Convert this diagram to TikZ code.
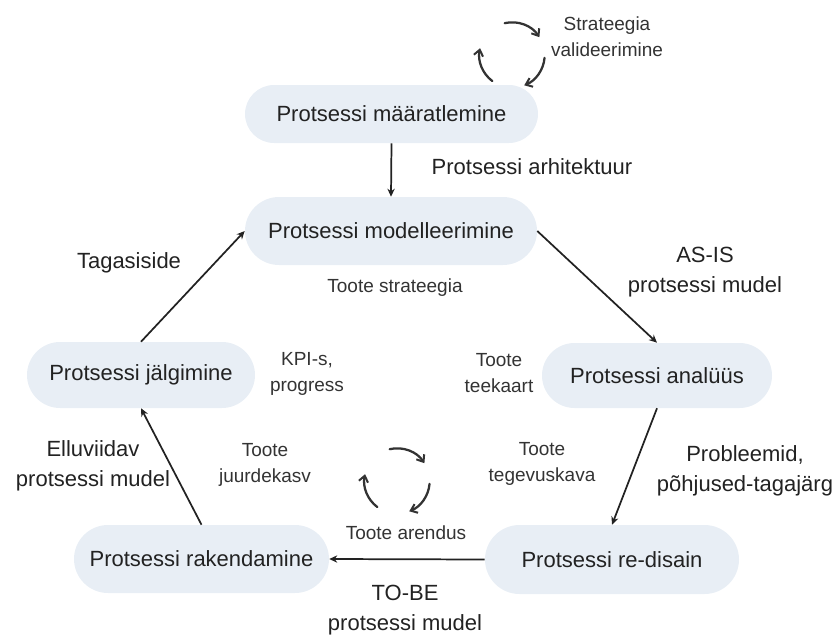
\documentclass[tikz,border=0pt]{standalone}
\usepackage{fontspec}
\setmainfont{Liberation Sans}
\usetikzlibrary{arrows.meta}
\definecolor{boxfill}{HTML}{E8EEF5}
\definecolor{ink}{HTML}{222222}
\definecolor{labelink}{HTML}{333333}
\tikzset{
  stage/.style={rectangle, fill=boxfill, draw=none, text=ink, inner sep=0pt,
    font=\fontsize{16.5}{19}\selectfont},
  biglabel/.style={text=ink, align=center, inner sep=0pt,
    font=\fontsize{16.5}{22.5}\selectfont},
  smalllabel/.style={text=labelink, align=center, inner sep=0pt,
    font=\fontsize{14.25}{19.5}\selectfont},
  flow/.style={draw=ink, line width=1.3pt, -{Stealth[length=6pt,width=5.5pt]}},
  cyclearc/.style={draw=labelink, line width=1.7pt, line cap=round,
    -{Straight Barb[length=4.5pt,width=7pt,line width=1.5pt]}}
}
\newcommand{\cyclemark}[1]{%
  \draw[cyclearc] (#1) ++(103:24.5pt) arc[start angle=103, end angle=33, radius=24.5pt];
  \draw[cyclearc] (#1) ++(-5:24.5pt) arc[start angle=-5, end angle=-68, radius=24.5pt];
  \draw[cyclearc] (#1) ++(233:24.5pt) arc[start angle=233, end angle=168, radius=24.5pt];
}
\begin{document}
\begin{tikzpicture}[x=0.75pt,y=-0.75pt]
\path[use as bounding box] (0,0) rectangle (838,635);

% process stages
\node[stage, minimum width=293*0.75pt, minimum height=58*0.75pt, rounded corners=21.75pt] (def) at (391.5,114) {Protsessi määratlemine};
\node[stage, minimum width=292*0.75pt, minimum height=68*0.75pt, rounded corners=25.5pt] (model) at (391,231) {Protsessi modelleerimine};
\node[stage, minimum width=228*0.75pt, minimum height=66*0.75pt, rounded corners=24.75pt] (monitor) at (141,375) {Protsessi jälgimine};
\node[stage, minimum width=230*0.75pt, minimum height=65*0.75pt, rounded corners=24.4pt] (analysis) at (657,375.5) {Protsessi analüüs};
\node[stage, minimum width=254*0.75pt, minimum height=69*0.75pt, rounded corners=25.9pt] (redesign) at (612,559.5) {Protsessi re-disain};
\node[stage, minimum width=255*0.75pt, minimum height=68*0.75pt, rounded corners=25.5pt] (deploy) at (201.5,559) {Protsessi rakendamine};

% flow between stages
\draw[flow] (def.south) -- (model.north);
\draw[flow] (model.east) -- (analysis.north);
\draw[flow] (analysis.south) -- (redesign.north);
\draw[flow] (redesign.west) -- (deploy.east);
\draw[flow] (deploy.north) -- (monitor.south);
\draw[flow] (monitor.north) -- (model.west);

% outputs passed along the flow
\node[biglabel] (arch) at (532,167) {Protsessi arhitektuur};
\node[biglabel] (asis) at (705,272) {AS-IS\\protsessi mudel};
\node[biglabel] (problems) at (745,471) {Probleemid,\\põhjused-tagajärg};
\node[biglabel] (tobe) at (405,610) {TO-BE\\protsessi mudel};
\node[biglabel] (implemented) at (93,466) {Elluviidav\\protsessi mudel};
\node[biglabel] (feedback) at (129,263) {Tagasiside};

% product side of the cycle
\node[smalllabel] (validation) at (607,37) {Strateegia\\valideerimine};
\node[smalllabel] (strategy) at (395,288) {Toote strateegia};
\node[smalllabel] (kpi) at (307,374) {KPI-s,\\progress};
\node[smalllabel] (roadmap) at (499,373) {Toote\\teekaart};
\node[smalllabel] (actionplan) at (542,464) {Toote\\tegevuskava};
\node[smalllabel] (growth) at (265,465) {Toote\\juurdekasv};
\node[smalllabel] (develop) at (406,533) {Toote arendus};

% circular iteration marks
\coordinate (loopTop) at (512,55);
\coordinate (loopBottom) at (397,481);
\cyclemark{loopTop}
\cyclemark{loopBottom}
\end{tikzpicture}
\end{document}
